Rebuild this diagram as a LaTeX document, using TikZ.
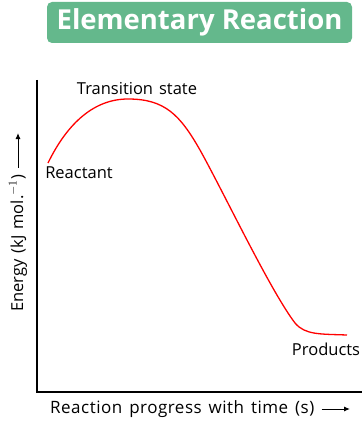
\documentclass[tikz,border=0pt]{standalone}
\usepackage{fontspec}
\setmainfont{Open Sans}
\newfontfamily\lblfont{Open Sans}[WordSpace=1.4]
\newfontfamily\xlblfont{Open Sans}[WordSpace=1.4, LetterSpace=3]
\usepackage{tikz}
\usetikzlibrary{arrows.meta, positioning}
\definecolor{titlegreen}{RGB}{100,184,140}
\tikzset{
  lbl/.style={font=\lblfont\fontsize{16.5}{19}\selectfont, inner sep=0pt},
  axis/.style={line width=1.8pt},
  curve/.style={red, line width=1.3pt},
  txtarrow/.style={-{Latex[length=6pt,width=5pt]}, line width=1pt}
}

\begin{document}
\begin{tikzpicture}[x=1pt,y=-1pt]
  \useasboundingbox (0,0) rectangle (362,425);
  % title
  \node[fill=titlegreen, rounded corners=5pt, minimum width=305pt, minimum height=41pt,
        text=white, font=\fontsize{27.5}{32}\selectfont\bfseries] (title) at (199.5,22.5) {Elementary Reaction};
  % axes
  \coordinate (top) at (37,80);
  \coordinate (origin) at (37,392);
  \coordinate (right) at (362,392);
  \draw[axis] (top) -- (origin) -- (right);
  % energy curve
  \coordinate (react) at (48,163);
  \coordinate (peak) at (128,99);
  \coordinate (prod) at (347,335);
  \draw[curve] (react) .. controls (68,122) and (95,99) .. (peak)
     .. controls (165,99) and (180,115) .. (200,150)
     .. controls (225,195) and (270,290) .. (295,323)
     .. controls (305,335) and (320,334) .. (prod);
  \node[lbl] (reactlab) at (79,173) {Reactant};
  \node[lbl] (tslab) at (137,89) {Transition state};
  \node[lbl] (prodlab) at (326,349) {Products};
  % axis labels
  \node[lbl, font=\xlblfont\fontsize{17}{19}\selectfont, anchor=west] (xlab) at (50,409) {Reaction progress with time (s)};
  \coordinate (xarr) at (350,409);
  \draw[txtarrow] ([xshift=7pt]xlab.east) -- (xarr);
  \node[lbl, rotate=90, anchor=west] (ylab) at (18,312) {Energy (kJ mol.$^{-1}$)};
  \coordinate (yarr) at (18,133);
  \draw[txtarrow] ([yshift=7pt]ylab.east) -- (yarr);
\end{tikzpicture}
\end{document}
